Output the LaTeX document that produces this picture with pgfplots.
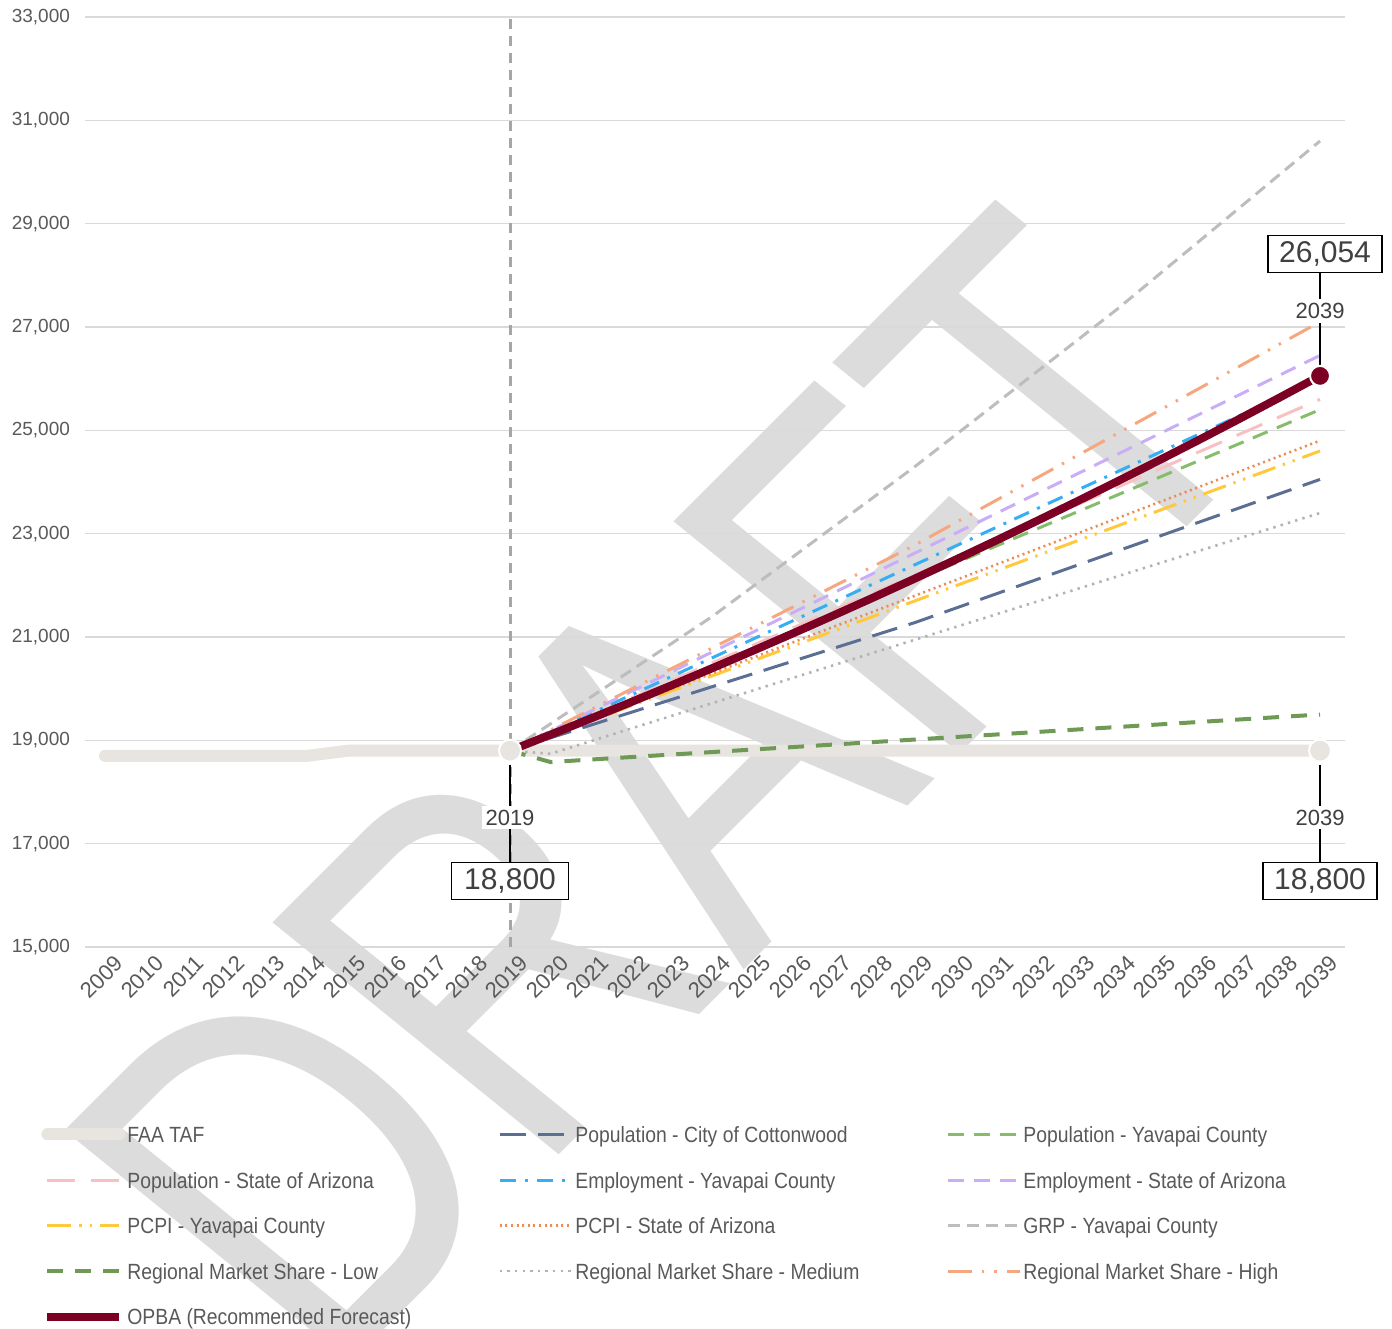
\documentclass[border=0pt]{standalone}
\usepackage{fontspec}
\setmainfont{Liberation Sans}
\newfontfamily\legfont[FakeStretch=0.88]{Liberation Sans}
\newfontfamily\wmfont[FakeStretch=0.77]{Liberation Sans}
\usepackage{pgfplots}
\pgfplotsset{compat=1.18}
\definecolor{tafc}{HTML}{E8E4DF}
\definecolor{navyc}{HTML}{5B6F94}
\definecolor{gyavc}{HTML}{86BD6A}
\definecolor{pinkc}{HTML}{F9C0C3}
\definecolor{bluec}{HTML}{36AEF5}
\definecolor{lavc}{HTML}{C9AEF7}
\definecolor{yelc}{HTML}{FFC83D}
\definecolor{orc}{HTML}{EE8B4E}
\definecolor{grpc}{HTML}{BDBDBD}
\definecolor{lowc}{HTML}{6E9A56}
\definecolor{medc}{HTML}{B3B3B3}
\definecolor{highc}{HTML}{F6A77F}
\definecolor{maroonc}{HTML}{7B0024}
\definecolor{gridc}{HTML}{D9D9D9}
\definecolor{tickc}{HTML}{595959}
\definecolor{labc}{HTML}{404040}
\definecolor{vgray}{HTML}{A6A6A6}
\definecolor{wmc}{HTML}{DCDCDC}
\begin{document}
\begin{tikzpicture}
\useasboundingbox (0pt,0pt) rectangle (696pt,664pt);
\begin{scope}[shift={(332.5pt,269pt)}, yscale=0.9, rotate=48]
\node[transform shape, text=wmc, font=\wmfont\fontsize{280}{280}\selectfont, inner sep=0pt] at (0,0) {DRAFT};
\end{scope}
\begin{axis}[
  at={(42.5pt,190.5pt)}, anchor=south west,
  scale only axis, width=630pt, height=465pt,
  xmin=2008.506, xmax=2039.617, ymin=15000, ymax=33000,
  xtick={2009,2010,...,2039}, ytick={15000,17000,...,33000},
  scaled y ticks=false, scaled x ticks=false,
  axis line style={draw=none}, major tick style={draw=none},
  ymajorgrids, grid style={color=gridc, line width=0.75pt},
  clip=false,
  /pgf/number format/assume math mode=true,
  /pgf/number format/1000 sep={,},
  yticklabel style={font=\fontsize{9.5}{11}\selectfont, text=tickc, xshift=-4pt},
  xticklabel style={rotate=45, anchor=east, xshift=4pt, yshift=-9.5pt, font=\fontsize{11}{13}\selectfont, text=tickc, /pgf/number format/1000 sep={}},
  legend columns=3,
  legend cell align=left,
  legend style={at={(-0.0397,-0.185)}, anchor=north west, draw=none, fill=none,
    font=\legfont\fontsize{11}{13.6}\selectfont, text=tickc,
    nodes={inner xsep=1pt, inner ysep=0pt}, row sep=11.75pt, column sep=0pt},
  legend image code/.code={\draw[#1] (0pt,0pt) -- (36pt,0pt);},
]
\addplot[forget plot, color=vgray, line width=1.5pt, dash pattern=on 5pt off 3.5pt] coordinates {(2019,15000) (2019,33000)};

\addplot[tafc, line width=6pt, line cap=round] coordinates {(2009,18700) (2014,18700) (2015,18800) (2039,18800)};
\addlegendentry{\makebox[184.5pt][l]{FAA TAF\strut}}
\addplot[navyc, line width=1.5pt, dash pattern=on 13pt off 6pt] coordinates {(2019,18800) (2029,21280) (2039,24050)};
\addlegendentry{\makebox[184.5pt][l]{Population - City of Cottonwood\strut}}
\addplot[gyavc, line width=1.5pt, dash pattern=on 8pt off 5pt] coordinates {(2019,18800) (2039,25400)};
\addlegendentry{\makebox[184.5pt][l]{Population - Yavapai County\strut}}
\addplot[pinkc, line width=1.5pt, dash pattern=on 14pt off 8pt] coordinates {(2019,18800) (2039,25600)};
\addlegendentry{\makebox[184.5pt][l]{Population - State of Arizona\strut}}
\addplot[bluec, line width=1.5pt, dash pattern=on 8pt off 4.5pt on 1.5pt off 4.5pt] coordinates {(2019,18800) (2039,26000)};
\addlegendentry{\makebox[184.5pt][l]{Employment - Yavapai County\strut}}
\addplot[lavc, line width=1.5pt, dash pattern=on 8pt off 5pt] coordinates {(2019,18800) (2039,26450)};
\addlegendentry{\makebox[184.5pt][l]{Employment - State of Arizona\strut}}
\addplot[yelc, line width=1.5pt, dash pattern=on 12pt off 4pt on 1.2pt off 4pt on 1.2pt off 4pt] coordinates {(2019,18800) (2039,24600)};
\addlegendentry{\makebox[184.5pt][l]{PCPI - Yavapai County\strut}}
\addplot[orc, line width=1.3pt, dash pattern=on 1pt off 1.8pt] coordinates {(2019,18800) (2039,24800)};
\addlegendentry{\makebox[184.5pt][l]{PCPI - State of Arizona\strut}}
\addplot[grpc, line width=1.5pt, dash pattern=on 6pt off 3.5pt] coordinates {(2019,18800) (2024,21400) (2029,24300) (2034,27350) (2039,30600)};
\addlegendentry{\makebox[184.5pt][l]{GRP - Yavapai County\strut}}
\addplot[lowc, line width=2pt, dash pattern=on 8pt off 6pt] coordinates {(2019,18800) (2020,18580) (2039,19500)};
\addlegendentry{\makebox[184.5pt][l]{Regional Market Share - Low\strut}}
\addplot[medc, line width=1.3pt, dash pattern=on 1.2pt off 2.6pt] coordinates {(2019,18800) (2020,18740) (2039,23400)};
\addlegendentry{\makebox[184.5pt][l]{Regional Market Share - Medium\strut}}
\addplot[highc, line width=1.5pt, dash pattern=on 12pt off 5pt on 1.2pt off 5pt on 1.2pt off 5pt] coordinates {(2019,18800) (2029,22780) (2039,27100)};
\addlegendentry{\makebox[184.5pt][l]{Regional Market Share - High\strut}}
\addplot[maroonc, line width=4pt] coordinates {
(2019,18800) (2020,19109) (2021,19424) (2022,19743) (2023,20068) (2024,20398)
(2025,20734) (2026,21075) (2027,21422) (2028,21774) (2029,22132) (2030,22496)
(2031,22866) (2032,23243) (2033,23625) (2034,24014) (2035,24409) (2036,24810)
(2037,25218) (2038,25633) (2039,26054)};
\addlegendentry{\makebox[184.5pt][l]{OPBA (Recommended Forecast)\strut}}

\addplot[forget plot, only marks, mark=*, mark size=5.5pt, mark options={fill=tafc, draw=white, line width=1pt}] coordinates {(2019,18800) (2039,18800)};
\addplot[forget plot, only marks, mark=*, mark size=5pt, mark options={fill=maroonc, draw=white, line width=1pt}] coordinates {(2039,26054)};

% callouts
\draw[black, line width=0.9pt, yshift=-7pt] (axis cs:2019,18800) -- ++(0pt,-48.5pt);
\node[fill=white, inner sep=2pt, text=labc, font=\fontsize{11}{13}\selectfont, yshift=-33.5pt] at (axis cs:2019,18800) {2019};
\node[draw=black, line width=0.6pt, fill=white, text=labc, font=\fontsize{15}{18}\selectfont, minimum width=58.5pt, minimum height=18.5pt, inner sep=0pt, yshift=-65pt] at (axis cs:2019,18800) {18,800};

\draw[black, line width=0.9pt, yshift=-7pt] (axis cs:2039,18800) -- ++(0pt,-48.5pt);
\node[fill=white, inner sep=2pt, text=labc, font=\fontsize{11}{13}\selectfont, yshift=-33.5pt] at (axis cs:2039,18800) {2039};
\node[draw=black, line width=0.6pt, fill=white, text=labc, font=\fontsize{15}{18}\selectfont, minimum width=57pt, minimum height=18.5pt, inner sep=0pt, yshift=-65pt] at (axis cs:2039,18800) {18,800};

\draw[black, line width=0.9pt, yshift=5pt] (axis cs:2039,26054) -- ++(0pt,47pt);
\node[fill=white, inner sep=2pt, text=labc, font=\fontsize{11}{13}\selectfont, yshift=32.5pt] at (axis cs:2039,26054) {2039};
\node[draw=black, line width=0.6pt, fill=white, text=labc, font=\fontsize{15}{18}\selectfont, minimum width=57pt, minimum height=18.5pt, inner sep=0pt, yshift=61pt, xshift=2.5pt] at (axis cs:2039,26054) {26,054};
\end{axis}
\end{tikzpicture}
\end{document}
